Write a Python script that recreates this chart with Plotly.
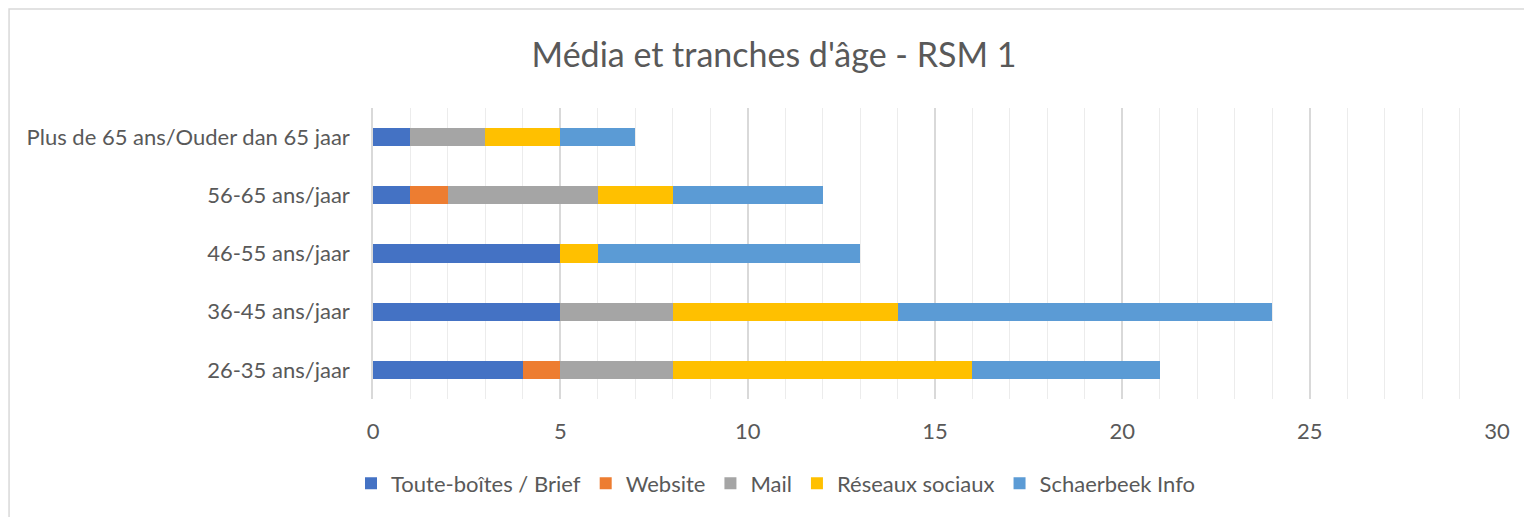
import plotly.graph_objects as go

categories = ["26-35 ans/jaar", "36-45 ans/jaar", "46-55 ans/jaar", "56-65 ans/jaar",
              "Plus de 65 ans/Ouder dan 65 jaar"]
series_names = ["Toute-boîtes / Brief", "Website", "Mail", "Réseaux sociaux", "Schaerbeek Info"]
toutes_boites = [4, 5, 5, 1, 1]
website = [1, 0, 0, 1, 0]
mail = [3, 3, 0, 4, 2]
reseaux = [8, 6, 1, 2, 2]
schaerbeek = [5, 10, 7, 4, 2]
colors = ["#4472C4", "#ED7D31", "#A5A5A5", "#FFC000", "#5B9BD5"]
x_ticks = [0, 5, 10, 15, 20, 25, 30]

values = [toutes_boites, website, mail, reseaux, schaerbeek]

FONT = "Lato"
FS = 22
fig = go.Figure()
for name, vals, col in zip(series_names, values, colors):
    fig.add_trace(go.Bar(y=categories, x=vals, name=name, orientation="h",
                         marker=dict(color=col, line=dict(width=0))))

fig.update_layout(
    barmode="stack",
    bargap=0.69,
    width=1524, height=517,
    margin=dict(l=373, r=27, t=108, b=118),
    paper_bgcolor="white", plot_bgcolor="white",
    font=dict(family=FONT, color="#595959", size=FS),
    title=dict(text="Média et tranches d'âge - RSM 1", x=774 / 1524, xanchor="center",
               y=1 - 55 / 517, yanchor="middle",
               font=dict(family=FONT, size=34, color="#595959")),
    legend=dict(orientation="h", x=(776 - 373) / 1124, xanchor="center",
                y=-0.29, yanchor="middle",
                font=dict(family=FONT, size=FS, color="#595959"), traceorder="normal",
                itemwidth=30),
    showlegend=True,
    shapes=[dict(type="rect", xref="paper", yref="paper", x0=-0.3238, x1=1.2,
                 y0=-1, y1=1.340, line=dict(color="#d9d9d9", width=1.5),
                 fillcolor="rgba(0,0,0,0)", layer="below")],
)
fig.update_xaxes(range=[0, 30], tickvals=x_ticks, showgrid=True, gridcolor="#d9d9d9",
                 gridwidth=1.5, zeroline=False, showline=False, ticks="",
                 ticklabelstandoff=17,
                 minor=dict(dtick=1, showgrid=True, gridcolor="#ececec", gridwidth=1),
                 tickfont=dict(family=FONT, size=FS, color="#595959"))
fig.update_yaxes(showline=True, linecolor="#d9d9d9", linewidth=1.5, ticks="",
                 ticklabelstandoff=17, categoryorder="array", categoryarray=categories,
                 tickfont=dict(family=FONT, size=FS, color="#595959"))

fig.write_html("out.html", config={"displayModeBar": False},
               post_script="document.body.style.margin='0';")
